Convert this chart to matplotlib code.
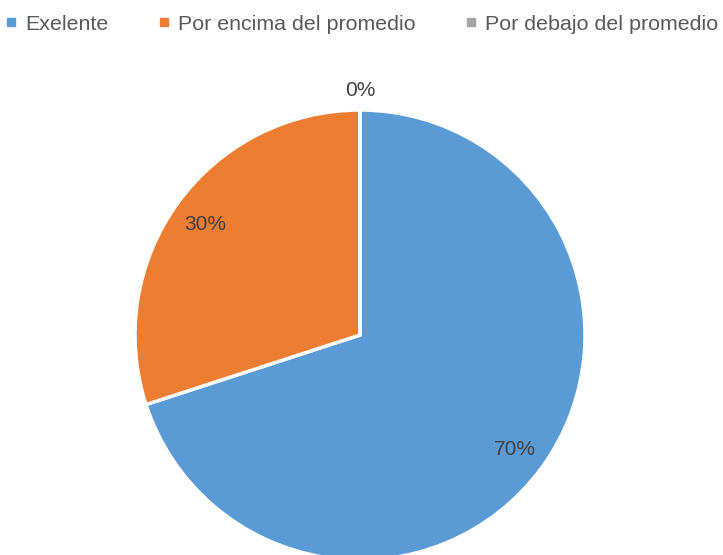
import matplotlib
matplotlib.use("Agg")
import matplotlib.pyplot as plt
from matplotlib.lines import Line2D
import numpy as np

categories = ["Exelente", "Por encima del promedio", "Por debajo del promedio"]
values = [70, 30, 0]
colors = ["#5B9BD5", "#ED7D31", "#A5A5A5"]

plt.rcParams['font.family'] = ['Liberation Sans Narrow', 'Liberation Sans', 'DejaVu Sans']

fig = plt.figure(figsize=(7.23, 5.55), dpi=100)
W, H = 723, 555
cx, cy, r = 360, 220, 225
ax = fig.add_axes([(cx - r) / W, (cy - r) / H, 2 * r / W, 2 * r / H])
wedges, _ = ax.pie(values, colors=colors, startangle=90, counterclock=False,
                   radius=1, wedgeprops=dict(edgecolor="white", linewidth=2.5))
for w, v in zip(wedges, values):
    mid = np.deg2rad((w.theta1 + w.theta2) / 2)
    d = 0.85 if v > 0 else 1.095
    ax.text(d * np.cos(mid), d * np.sin(mid), f"{v}%", ha="center",
            va="center_baseline", fontsize=15, color="#404040")
ax.set_xlim(-1, 1)
ax.set_ylim(-1, 1)
ax.set_aspect("equal")
ax.axis("off")

handles = [Line2D([], [], marker="s", linestyle="none", markersize=5.5,
                  markerfacecolor=c, markeredgecolor=c) for c in colors]
fig.legend(handles, categories, loc="upper center", bbox_to_anchor=(0.5, 1.0),
           ncol=3, frameon=False, fontsize=15.4, labelcolor="#595959",
           handletextpad=0.35, columnspacing=2.3, handlelength=0.6,
           borderaxespad=0.3)
fig.savefig("out.png", dpi=100)
